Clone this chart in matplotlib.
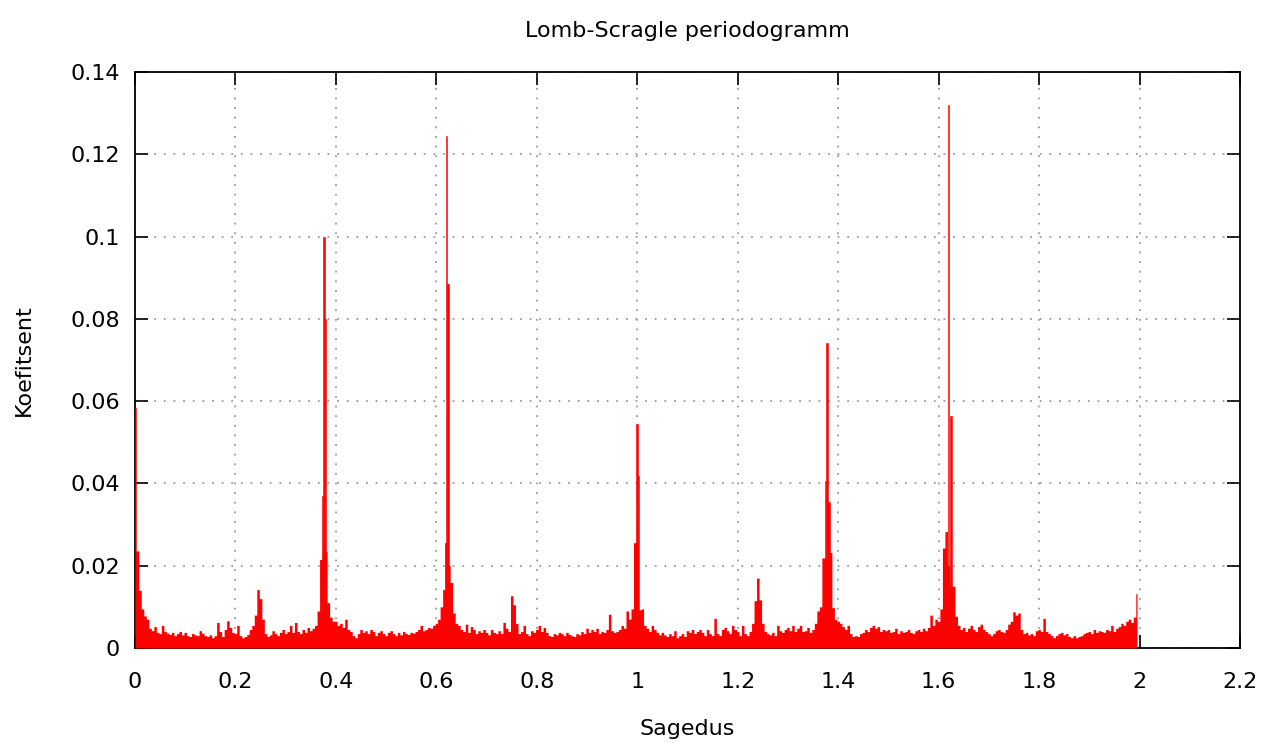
import numpy as np
import matplotlib
matplotlib.use("Agg")
import matplotlib.pyplot as plt
from matplotlib.ticker import FuncFormatter

# ---- data ----
freq_start = 0.0
freq_step = 0.005
# periodogram floor, units of 1e-4, one row per 0.1 of frequency
floor_e4 = [
    585, 236, 140, 95, 78, 70, 48, 42, 52, 38, 35, 55, 40, 36, 33, 38, 30, 35, 40, 32,
    38, 30, 28, 35, 32, 30, 42, 36, 30, 28, 32, 25, 30, 62, 40, 28, 45, 66, 50, 38,
    35, 55, 30, 25, 28, 33, 45, 55, 80, 142, 120, 70, 35, 28, 32, 42, 35, 30, 38, 45,
    35, 40, 55, 38, 62, 40, 35, 45, 38, 50, 42, 48, 55, 90, 215, 230, 235, 110, 75, 65,
    65, 55, 60, 50, 70, 45, 40, 30, 25, 35, 45, 38, 42, 35, 45, 40, 30, 38, 42, 35,
    30, 38, 42, 35, 30, 38, 32, 40, 35, 33, 38, 36, 40, 45, 55, 42, 45, 50, 48, 55,
    60, 70, 100, 142, 256, 200, 159, 85, 60, 55, 45, 40, 58, 38, 52, 45, 35, 42, 38, 45,
    38, 32, 45, 38, 35, 42, 35, 62, 48, 40, 127, 105, 60, 35, 40, 55, 35, 30, 42, 38,
    45, 55, 40, 50, 38, 30, 28, 35, 32, 38, 35, 30, 38, 33, 30, 28, 35, 32, 40, 35,
    48, 38, 45, 40, 48, 35, 40, 38, 45, 82, 42, 38, 40, 45, 55, 48, 90, 70, 95, 256,
    256, 93, 95, 55, 48, 40, 55, 45, 38, 32, 38, 32, 28, 35, 30, 42, 25, 30, 35, 28,
    42, 38, 45, 35, 40, 45, 38, 30, 45, 35, 30, 72, 35, 30, 45, 50, 42, 35, 55, 45,
    40, 30, 55, 35, 30, 40, 60, 115, 170, 117, 60, 40, 35, 32, 38, 30, 55, 42, 38, 45,
    50, 42, 55, 40, 48, 55, 40, 42, 50, 38, 45, 60, 90, 100, 219, 219, 354, 232, 98, 70,
    65, 60, 52, 45, 55, 35, 28, 30, 28, 35, 38, 45, 40, 50, 55, 48, 52, 40, 45, 42,
    45, 38, 40, 48, 35, 42, 38, 40, 45, 38, 35, 42, 45, 40, 48, 42, 50, 80, 55, 70,
    65, 95, 243, 283, 200, 150, 150, 77, 55, 45, 50, 40, 48, 55, 45, 40, 52, 58, 45, 40,
    35, 30, 35, 42, 45, 40, 38, 45, 58, 65, 88, 80, 85, 45, 35, 38, 32, 35, 30, 42,
    45, 40, 72, 40, 35, 30, 25, 30, 35, 38, 32, 35, 28, 25, 30, 25, 28, 30, 35, 38,
    40, 35, 45, 38, 42, 40, 38, 45, 42, 55, 40, 48, 52, 60, 55, 65, 70, 62, 75, 132,
]
# narrow main peaks
peak_freq = [0.3735, 0.3765, 0.3790, 0.6180, 0.6205, 0.6235, 0.9995, 1.0025,
             1.3745, 1.3777, 1.3815, 1.6195, 1.6245]
peak_vals = [0.0370, 0.1000, 0.0800, 0.0256, 0.1245, 0.0885, 0.0545, 0.0418,
             0.0406, 0.0742, 0.0354, 0.1320, 0.0565]

x_ticks = [0, 0.2, 0.4, 0.6, 0.8, 1.0, 1.2, 1.4, 1.6, 1.8, 2.0, 2.2]
y_ticks = [0, 0.02, 0.04, 0.06, 0.08, 0.1, 0.12, 0.14]
title = "Lomb-Scragle periodogramm"
xlabel = "Sagedus"
ylabel = "Koefitsent"

# ---- plot ----
plt.rcParams['font.family'] = ['DejaVu Sans']
fig = plt.figure(figsize=(12.71, 7.45), dpi=100)
ax = fig.add_axes([135/1271, 1-648/745, (1240-135)/1271, (648-72)/745])

floor = np.array(floor_e4) * 1e-4
freq = freq_start + freq_step * np.arange(len(floor))
ax.fill_between(freq, 0, floor, step='mid', color='#ff0000', linewidth=0,
                zorder=3)
ax.bar(peak_freq, peak_vals, width=0.0028, color='#ff0000', edgecolor='#ff0000',
       linewidth=0.4, align='center', zorder=3)

ax.set_xlim(0, 2.2)
ax.set_ylim(0, 0.14)
ax.set_xticks(x_ticks)
ax.set_yticks(y_ticks)
fmt = FuncFormatter(lambda v, p: ('%g' % round(v, 4)))
ax.xaxis.set_major_formatter(fmt)
ax.yaxis.set_major_formatter(fmt)

ax.set_axisbelow(True)
ax.grid(True, color='#8a8a8a', linestyle=(0, (1.2, 5.1)), linewidth=1.1)
ax.tick_params(direction='in', length=9.5, width=1.2, top=True, right=True,
               labelsize=16, colors='black')
ax.tick_params(axis='y', pad=11)
ax.tick_params(axis='x', pad=17)
for s in ax.spines.values():
    s.set_linewidth(1.3)
    s.set_color('black')

ax.set_title(title, fontsize=16, pad=25)
ax.set_xlabel(xlabel, fontsize=16, labelpad=20)
ax.set_ylabel(ylabel, fontsize=16, labelpad=26)

fig.savefig('out.png', dpi=100)
